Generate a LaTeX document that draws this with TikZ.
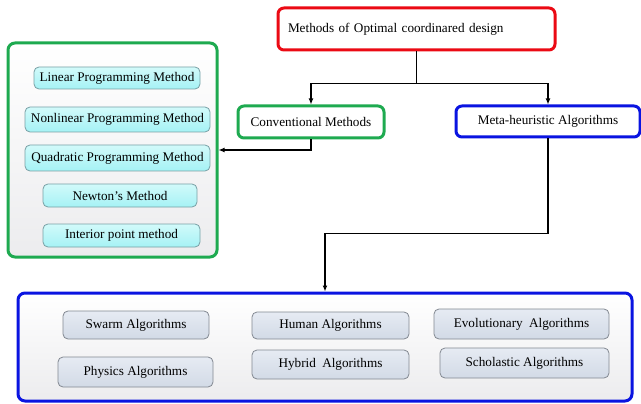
\documentclass[tikz,border=0pt]{standalone}
\usepackage{fontspec}
\setmainfont{Liberation Serif}
\usetikzlibrary{arrows.meta}
\definecolor{boxred}{RGB}{235,10,20}
\definecolor{boxgreen}{RGB}{30,170,80}
\definecolor{boxblue}{RGB}{10,20,225}
\definecolor{cyantop}{RGB}{210,250,250}
\definecolor{cyanbot}{RGB}{165,242,245}
\definecolor{cyanline}{RGB}{120,160,165}
\definecolor{graytop}{RGB}{230,235,243}
\definecolor{graybot}{RGB}{210,218,230}
\definecolor{grayline}{RGB}{130,136,145}
\definecolor{panelbot}{RGB}{236,236,238}
\tikzset{
  every node/.style={font=\fontsize{13.2}{15}\selectfont, inner sep=0pt, text=black},
  mainbox/.style={draw, line width=3pt, rounded corners=6pt, fill=white},
  panel/.style={draw, line width=3pt, rounded corners=7pt, top color=white, bottom color=panelbot},
  cyanbox/.style={draw=cyanline, line width=0.8pt, rounded corners=5pt, top color=cyantop, bottom color=cyanbot},
  graybox/.style={draw=grayline, line width=0.8pt, rounded corners=5pt, top color=graytop, bottom color=graybot},
  conn/.style={line width=1.4pt, black},
  arr/.style={conn, -{Latex[length=6pt,width=5pt]}}
}
\begin{document}
\begin{tikzpicture}[x=1pt,y=1pt]
\useasboundingbox (0,0) rectangle (641,-404);
% top
\node[mainbox, draw=boxred, text width=257pt, inner xsep=10pt, minimum height=42pt, align=left] (top) at (416.5,-29) {Methods of Optimal coordinared design};
\node[mainbox, draw=boxgreen, minimum width=146pt, minimum height=32pt] (conv) at (311,-122) {Conventional Methods};
\node[mainbox, draw=boxblue, minimum width=184pt, minimum height=31pt] (meta) at (548,-121.5) {Meta-heuristic Algorithms};
% left panel
\node[panel, draw=boxgreen, minimum width=209pt, minimum height=214pt] (left) at (112.5,-150) {};
\node[cyanbox, minimum width=166pt, minimum height=22pt] (lin) at (117,-78) {Linear Programming Method};
\node[cyanbox, minimum width=185pt, minimum height=25pt] (nonlin) at (117.5,-119.5) {Nonlinear Programming Method};
\node[cyanbox, minimum width=185pt, minimum height=26pt] (quad) at (117.5,-158) {Quadratic Programming Method};
\node[cyanbox, minimum width=154pt, minimum height=23pt] (newton) at (120,-195.5) {Newton’s Method};
\node[cyanbox, minimum width=157pt, minimum height=23pt] (interior) at (121.5,-235.5) {Interior point method};
% bottom panel
\node[panel, draw=boxblue, minimum width=614pt, minimum height=108pt] (bottom) at (325,-347) {};
\node[graybox, minimum width=146pt, minimum height=28pt] (swarm) at (136,-325) {Swarm Algorithms};
\node[graybox, minimum width=155pt, minimum height=30pt] (phys) at (135.5,-372) {Physics Algorithms};
\node[graybox, minimum width=157pt, minimum height=27pt] (human) at (330.5,-325.5) {Human Algorithms};
\node[graybox, minimum width=157pt, minimum height=29pt] (hybrid) at (330.5,-364.5) {Hybrid\hspace{3pt} Algorithms};
\node[graybox, minimum width=175pt, minimum height=30pt] (evo) at (521.5,-324) {Evolutionary\hspace{3pt} Algorithms};
\node[graybox, minimum width=169pt, minimum height=30pt] (schol) at (524.5,-363) {Scholastic Algorithms};
% connectors
\coordinate (j) at ([yshift=-32pt]top.south);
\draw[conn] (top.south) -- (j);
\draw[arr] (j) -| (conv.north);
\draw[arr] (j) -| (meta.north);
\draw[arr] (conv.south) |- (left.east);
\coordinate (k) at ([yshift=-95pt]meta.south);
\draw[conn] (meta.south) -- (k);
\draw[arr] (k) -| (bottom.north);
\end{tikzpicture}
\end{document}
